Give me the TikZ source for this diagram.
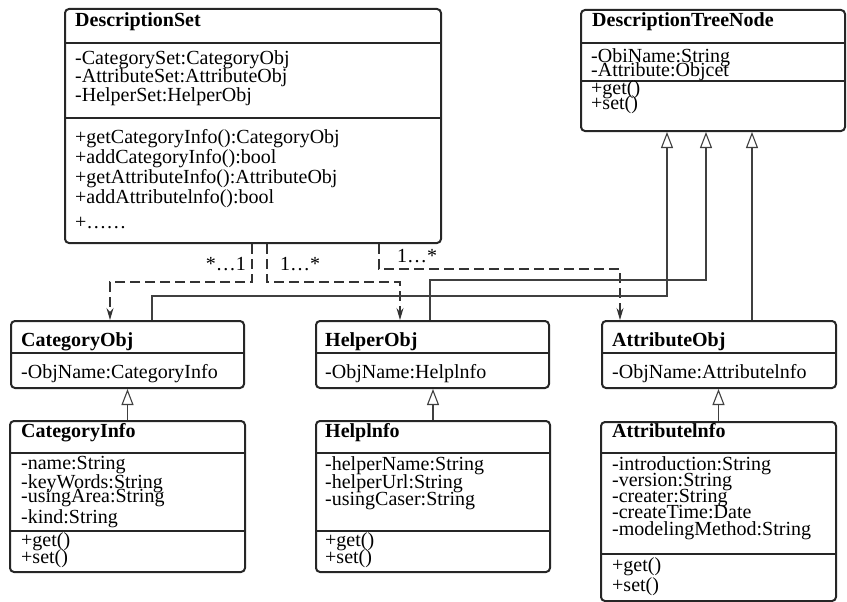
\documentclass[tikz,border=0pt]{standalone}
\usepackage{fontspec}
\setmainfont{Liberation Serif}
\usetikzlibrary{arrows.meta}
\begin{document}
\begin{tikzpicture}[x=1pt, y=-1pt, font=\fontsize{20}{20}\selectfont,
    classbox/.style={draw=black!85, line width=2pt, rounded corners=4pt, inner sep=0pt, anchor=north west},
    sepline/.style={draw=black!85, line width=1.6pt},
    classname/.style={font=\fontsize{20}{20}\selectfont\bfseries, anchor=base west, inner sep=0pt},
    member/.style={anchor=base west, inner sep=0pt},
    mult/.style={inner sep=0pt},
    assoc/.style={draw=black!80, line width=1.1pt, dash pattern=on 10pt off 5pt,
        -{Stealth[length=12pt, width=7pt, inset=4pt]}},
    inherit/.style={draw=black!75, line width=1.1pt, -{Triangle[open, length=16pt, width=12pt]}}]
    \useasboundingbox (0,0) rectangle (847,602);
    % 类框
    \node[classbox, minimum width=376pt, minimum height=234pt] (dset) at (64,8) {};
    \node[classbox, minimum width=264pt, minimum height=121pt] (dtree) at (580,9) {};
    \node[classbox, minimum width=233pt, minimum height=67pt] (cobj) at (10,320) {};
    \node[classbox, minimum width=233pt, minimum height=67pt] (hobj) at (315,320) {};
    \node[classbox, minimum width=234pt, minimum height=67pt] (aobj) at (601,320) {};
    \node[classbox, minimum width=235pt, minimum height=151pt] (cinfo) at (9,420) {};
    \node[classbox, minimum width=234pt, minimum height=151pt] (hinfo) at (315,420) {};
    \node[classbox, minimum width=235pt, minimum height=179pt] (ainfo) at (600,421) {};
    % 分隔线
    \draw[sepline] ([yshift=-35pt]dset.north west) -- ([yshift=-35pt]dset.north east);
    \draw[sepline] ([yshift=-110pt]dset.north west) -- ([yshift=-110pt]dset.north east);
    \draw[sepline] ([yshift=-34pt]dtree.north west) -- ([yshift=-34pt]dtree.north east);
    \draw[sepline] ([yshift=-72pt]dtree.north west) -- ([yshift=-72pt]dtree.north east);
    \foreach \n in {cobj,hobj,aobj}
        \draw[sepline] ([yshift=-33pt]\n.north west) -- ([yshift=-33pt]\n.north east);
    \foreach \n in {cinfo,hinfo}
        \draw[sepline] ([yshift=-33pt]\n.north west) -- ([yshift=-33pt]\n.north east);
    \foreach \n in {cinfo,hinfo}
        \draw[sepline] ([yshift=-111pt]\n.north west) -- ([yshift=-111pt]\n.north east);
    \draw[sepline] ([yshift=-32pt]ainfo.north west) -- ([yshift=-32pt]ainfo.north east);
    \draw[sepline] ([yshift=-133pt]ainfo.north west) -- ([yshift=-133pt]ainfo.north east);
    % 类名
    \node[classname] (dset-t) at (75,27) {DescriptionSet};
    \node[classname] (dtree-t) at (592,27) {DescriptionTreeNode};
    \node[classname] (cobj-t) at (21,346) {CategoryObj};
    \node[classname] (hobj-t) at (325,346) {HelperObj};
    \node[classname] (aobj-t) at (612,346) {AttributeObj};
    \node[classname] (cinfo-t) at (21,437) {CategoryInfo};
    \node[classname] (hinfo-t) at (325,437) {Helplnfo};
    \node[classname] (ainfo-t) at (612,437) {Attributelnfo};
    % 属性与方法
    \foreach \y/\t [count=\i] in {65/-CategorySet:CategoryObj, 83/-AttributeSet:AttributeObj,
        102/-HelperSet:HelperObj, 143/+getCategoryInfo():CategoryObj, 163/+addCategoryInfo():bool,
        183/+getAttributeInfo():AttributeObj, 203/+addAttributelnfo():bool, 228/+……}
        \node[member] (dset-\i) at (75,\y) {\t};
    \foreach \y/\t [count=\i] in {63/-ObiName:String, 77/-Attribute:Objcet, 95/+get(), 110/+set()}
        \node[member] (dtree-\i) at (591,\y) {\t};
    \node[member] (cobj-1) at (21,378) {-ObjName:CategoryInfo};
    \node[member] (hobj-1) at (325,378) {-ObjName:Helplnfo};
    \node[member] (aobj-1) at (612,378) {-ObjName:Attributelnfo};
    \foreach \y/\t [count=\i] in {469/-name:String, 488/-keyWords:String, 502/-usingArea:String,
        523/-kind:String, 546/+get(), 563/+set()}
        \node[member] (cinfo-\i) at (21,\y) {\t};
    \foreach \y/\t [count=\i] in {470/-helperName:String, 488/-helperUrl:String,
        505/-usingCaser:String, 546/+get(), 563/+set()}
        \node[member] (hinfo-\i) at (325,\y) {\t};
    \foreach \y/\t [count=\i] in {470/-introduction:String, 486/-version:String, 502/-creater:String,
        518/-createTime:Date, 535/-modelingMethod:String, 571/+get(), 591/+set()}
        \node[member] (ainfo-\i) at (612,\y) {\t};
    % 关联（虚线）
    \draw[assoc] ([xshift=188pt]dset.south west) -- ++(0,38) -| ([xshift=100pt]cobj.north west);
    \draw[assoc] ([xshift=203pt]dset.south west) -- ++(0,38) -| ([xshift=85pt]hobj.north west);
    \draw[assoc] ([xshift=315pt]dset.south west) -- ++(0,25) -| ([xshift=19pt]aobj.north west);
    \node[mult, anchor=base east] (m1) at (246,270) {*…1};
    \node[mult, anchor=base west] (m2) at (280,270) {1…*};
    \node[mult, anchor=base west] (m3) at (397,262) {1…*};
    % 继承
    \draw[inherit] ([xshift=142pt]cobj.north west) -- ++(0,-24) -| ([xshift=87pt]dtree.south west);
    \draw[inherit] ([xshift=115pt]hobj.north west) -- ++(0,-40) -| ([xshift=126pt]dtree.south west);
    \draw[inherit] ([xshift=151pt]aobj.north west) -- ([xshift=172pt]dtree.south west);
    \draw[inherit] (cinfo.north) -- (cinfo.north |- cobj.south);
    \draw[inherit] (hinfo.north) -- (hinfo.north |- hobj.south);
    \draw[inherit] (ainfo.north) -- (ainfo.north |- aobj.south);
\end{tikzpicture}
\end{document}
